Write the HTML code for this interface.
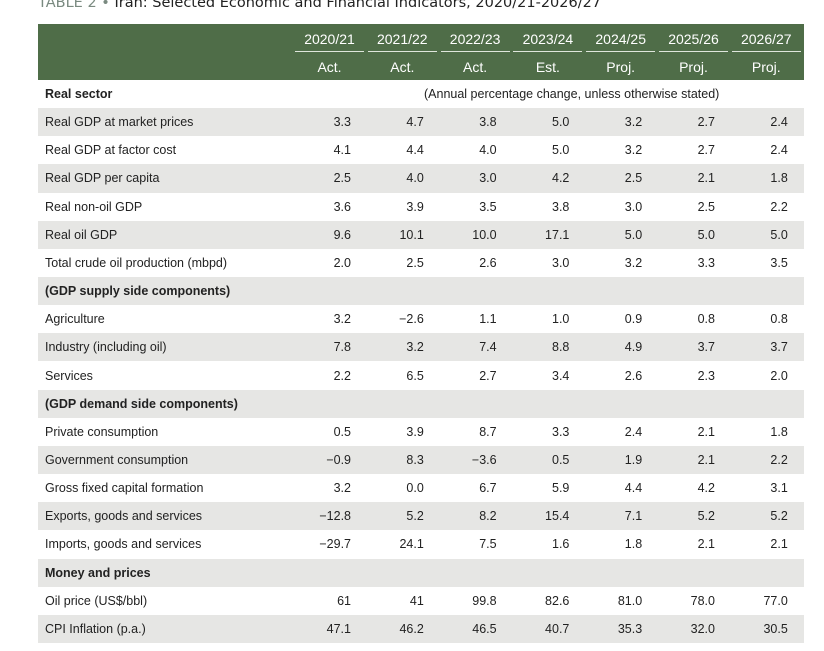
<!DOCTYPE html>
<html><head><meta charset="utf-8"><style>
body{margin:0;width:824px;height:651px;background:#fff;position:relative;overflow:hidden;font-family:"Liberation Sans Narrow","Liberation Sans",sans-serif;}
.t{position:absolute;left:38px;top:-5px;font-family:"DejaVu Sans","Liberation Sans",sans-serif;font-size:14.5px;color:#222;white-space:nowrap;z-index:5}
.t span{color:#7a8a80}
.hd{position:absolute;left:38px;top:24px;width:766px;height:56px;background:#4f6d48}
.yr,.ac{position:absolute;width:69px;text-align:center;color:#fff;font-size:14px}
.yr{top:31px;}
.ul{position:absolute;top:51px;width:69px;height:1px;background:#dfe6dc}
.ac{top:59px}
.r{position:absolute;left:38px;width:766px;height:28.15px;font-size:12.5px;color:#222}
.r.g{background:#e6e6e4}
.r .l{position:absolute;left:7px;top:7px;white-space:nowrap}
.r .b{font-weight:bold}
.r .v{position:absolute;top:7px;width:60px;text-align:right}
</style></head><body>
<div class="t"><span>TABLE 2 &#8226; </span>Iran: Selected Economic and Financial Indicators, 2020/21-2026/27</div>
<div class="hd"></div>
<div id="h"></div>
<div id="rows"></div>
<script>
(function(){
var L=294,W=72.8;
var yrs=["2020/21","2021/22","2022/23","2023/24","2024/25","2025/26","2026/27"];
var ac=["Act.","Act.","Act.","Est.","Proj.","Proj.","Proj."];
var h="";
for(var i=0;i<7;i++){var x=L+W*i+1;h+='<div class="yr" style="left:'+x+'px">'+yrs[i]+'</div><div class="ul" style="left:'+x+'px"></div><div class="ac" style="left:'+x+'px">'+ac[i]+'</div>';}
document.getElementById('h').innerHTML=h;
var R=[["Real sector",null],
["Real GDP at market prices",["3.3","4.7","3.8","5.0","3.2","2.7","2.4"]],
["Real GDP at factor cost",["4.1","4.4","4.0","5.0","3.2","2.7","2.4"]],
["Real GDP per capita",["2.5","4.0","3.0","4.2","2.5","2.1","1.8"]],
["Real non-oil GDP",["3.6","3.9","3.5","3.8","3.0","2.5","2.2"]],
["Real oil GDP",["9.6","10.1","10.0","17.1","5.0","5.0","5.0"]],
["Total crude oil production (mbpd)",["2.0","2.5","2.6","3.0","3.2","3.3","3.5"]],
["(GDP supply side components)",null],
["Agriculture",["3.2","\u22122.6","1.1","1.0","0.9","0.8","0.8"]],
["Industry (including oil)",["7.8","3.2","7.4","8.8","4.9","3.7","3.7"]],
["Services",["2.2","6.5","2.7","3.4","2.6","2.3","2.0"]],
["(GDP demand side components)",null],
["Private consumption",["0.5","3.9","8.7","3.3","2.4","2.1","1.8"]],
["Government consumption",["\u22120.9","8.3","\u22123.6","0.5","1.9","2.1","2.2"]],
["Gross fixed capital formation",["3.2","0.0","6.7","5.9","4.4","4.2","3.1"]],
["Exports, goods and services",["\u221212.8","5.2","8.2","15.4","7.1","5.2","5.2"]],
["Imports, goods and services",["\u221229.7","24.1","7.5","1.6","1.8","2.1","2.1"]],
["Money and prices",null],
["Oil price (US$/bbl)",["61","41","99.8","82.6","81.0","78.0","77.0"]],
["CPI Inflation (p.a.)",["47.1","46.2","46.5","40.7","35.3","32.0","30.5"]]];
var s="";
for(var j=0;j<R.length;j++){var ty=80+28.15*j;
s+='<div class="r'+(j%2?' g':'')+'" style="top:'+ty+'px"><div class="l'+(R[j][1]?'':' b')+'">'+R[j][0]+'</div>';
if(R[j][1]){for(var i=0;i<7;i++){var x=L+W*i+57-60-38;s+='<div class="v" style="left:'+x+'px">'+R[j][1][i]+'</div>';}}
else if(j==0){s+='<div style="position:absolute;left:386px;top:7px;white-space:nowrap">(Annual percentage change, unless otherwise stated)</div>';}
s+='</div>';}
document.getElementById('rows').innerHTML=s;
})();
</script>
</body></html>
